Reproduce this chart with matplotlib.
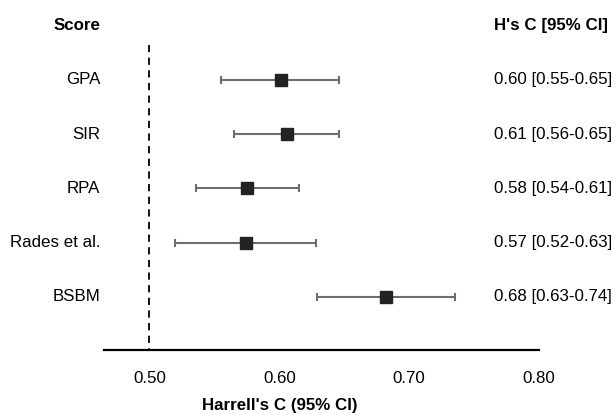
import matplotlib
matplotlib.use('Agg')
import matplotlib.pyplot as plt
import matplotlib.transforms as mtransforms

plt.rcParams['font.family'] = ['Liberation Sans', 'DejaVu Sans']

# ---------------------------------------------------------------------------
# Data
# ---------------------------------------------------------------------------

scores = ['GPA', 'SIR', 'RPA', 'Rades et al.', 'BSBM']
c_index = [0.601, 0.606, 0.575, 0.5745, 0.682]
ci_low = [0.555, 0.565, 0.536, 0.520, 0.629]
ci_high = [0.646, 0.646, 0.615, 0.628, 0.735]
ci_text = ['0.60 [0.55-0.65]', '0.61 [0.56-0.65]', '0.58 [0.54-0.61]',
           '0.57 [0.52-0.63]', '0.68 [0.63-0.74]']
xticks = [0.50, 0.60, 0.70, 0.80]
xtick_labels = ['0.50', '0.60', '0.70', '0.80']

# ---------------------------------------------------------------------------
# Plot
# ---------------------------------------------------------------------------

W, H = 616, 415
FS = 12.2
fig = plt.figure(figsize=(W / 100, H / 100), dpi=100)
ax = fig.add_axes([104 / W, 1 - 350 / H, (539 - 104) / W, 350 / H])

rows = list(range(len(scores)))
xerr = [[c - lo for c, lo in zip(c_index, ci_low)],
        [hi - c for c, hi in zip(c_index, ci_high)]]

ax.errorbar(c_index, rows, xerr=xerr, fmt='none', ecolor='#6e6e6e',
            elinewidth=1.5, capsize=3, capthick=1.5, zorder=2)
ax.plot(c_index, rows, 's', color='#222222', markersize=8, zorder=3)

# reference line at 0.5
ax.plot([0.5, 0.5], [-0.645, 4.98], linestyle=(0, (4, 3)), color='black',
        linewidth=1.3, zorder=1)

ax.set_xlim(0.465, 0.80)
ax.set_ylim(4.98, -1.475)

for s in ['top', 'right', 'left']:
    ax.spines[s].set_visible(False)
ax.spines['bottom'].set_linewidth(1.6)
ax.set_yticks([])
ax.set_xticks(xticks)
ax.set_xticklabels(xtick_labels, fontsize=FS)
ax.tick_params(axis='x', length=0, pad=15)

# left labels and right CI texts
x_left = 0.4623
x_right = 0.7654
for i, (name, txt) in enumerate(zip(scores, ci_text)):
    ax.text(x_left, i, name, ha='right', va='center', fontsize=FS,
            clip_on=False)
    ax.text(x_right, i, txt, ha='left', va='center', fontsize=FS,
            clip_on=False)

ax.text(x_left, -1, 'Score', ha='right', va='center', fontsize=FS,
        fontweight='bold', clip_on=False)
ax.text(x_right, -1, "H's C [95% CI]", ha='left', va='center', fontsize=FS,
        fontweight='bold', clip_on=False)

trans = mtransforms.blended_transform_factory(ax.transData, fig.transFigure)
ax.text(0.60, 1 - 405 / H, "Harrell's C (95% CI)", transform=trans,
        ha='center', va='center', fontsize=FS, fontweight='bold')

fig.savefig('out.png', dpi=100)
